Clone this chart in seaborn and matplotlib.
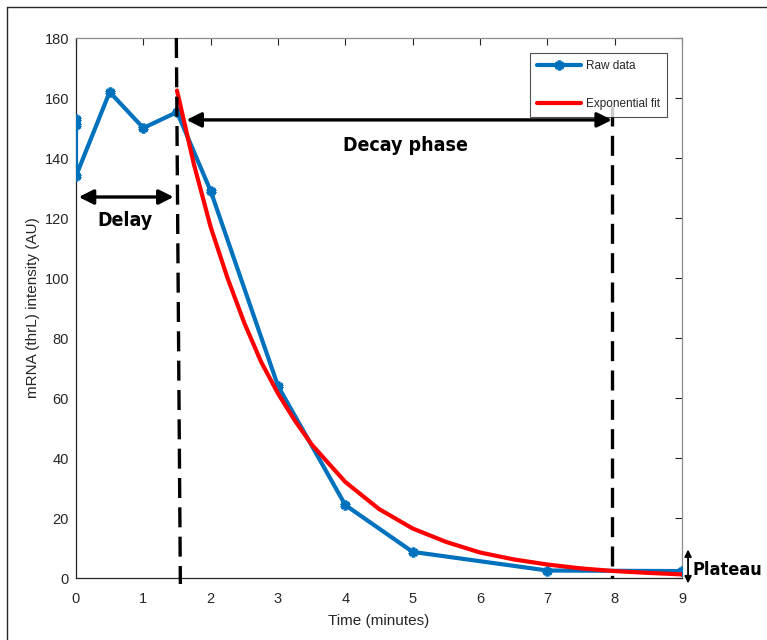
import matplotlib
matplotlib.use("Agg")
import matplotlib.pyplot as plt
import seaborn as sns
import pandas as pd
from matplotlib.lines import Line2D

# ---- data ----
raw_time = [0, 0, 0, 0.5, 1, 1.5, 2, 3, 4, 5, 7, 9]
raw_intensity = [151, 153, 134, 162, 150, 155.3, 129, 64, 24.3, 8.7, 2.5, 2.3]

fit_time = [1.5, 1.75, 2.0, 2.25, 2.5, 2.75, 3.0, 3.25, 3.5, 4.0, 4.5, 5.0,
            5.5, 6.0, 6.5, 7.0, 7.5, 8.0, 8.5, 9.0]
fit_intensity = [162.5, 138, 117, 100, 85, 72, 61.5, 52.5, 44.5, 32, 23, 16.5,
                 12, 8.5, 6.2, 4.5, 3.2, 2.3, 1.7, 1.2]

x_ticks = list(range(0, 10))
y_ticks = list(range(0, 181, 20))

delay_start, delay_end = 1.5, 7.96

sns.set_theme(style="white")
plt.rcParams['font.family'] = ['Liberation Sans', 'DejaVu Sans']

fig = plt.figure(figsize=(7.67, 6.4), dpi=100)
ax = fig.add_axes([76/767, 62/640, 606/767, 540/640])

blue = "#0072BD"
red = "#FF0000"

raw_df = pd.DataFrame({"t": raw_time, "y": raw_intensity})
fit_df = pd.DataFrame({"t": fit_time, "y": fit_intensity})

mk = dict(marker=(6, 2, 0), markersize=7, markeredgewidth=2.6,
          markeredgecolor=blue, markerfacecolor=blue)

sns.lineplot(data=raw_df, x="t", y="y", estimator=None, sort=False, ax=ax,
             color=blue, lw=3, zorder=3, **mk)
sns.lineplot(data=fit_df, x="t", y="y", estimator=None, sort=False, ax=ax,
             color=red, lw=3, zorder=4)

ax.set_xlim(0, 9)
ax.set_ylim(0, 180)
ax.set_xticks(x_ticks)
ax.set_yticks(y_ticks)
ax.set_xlabel("Time (minutes)", fontsize=11, color="#262626", labelpad=6)
ax.set_ylabel("mRNA (thrL) intensity (AU)", fontsize=11, color="#262626", labelpad=3)
ax.tick_params(axis="both", direction="in", length=5, width=0.8, labelsize=10.5,
               colors="#262626", top=True, right=True, pad=5)
ax.tick_params(axis="x", pad=10)
for side in ["left", "bottom"]:
    ax.spines[side].set_color("#262626")
    ax.spines[side].set_linewidth(0.9)
for side in ["top", "right"]:
    ax.spines[side].set_color("#8c8c8c")
    ax.spines[side].set_linewidth(0.9)

# dashed vertical lines
ax.plot([1.49, 1.55], [180, -2], color="black", lw=2.4, ls=(0, (6, 2.8)),
        clip_on=False, zorder=5)
ax.plot([delay_end, delay_end], [157.5, 0], color="black", lw=2.4,
        ls=(0, (6, 2.8)), clip_on=False, zorder=5)

# arrows
arrow_kw = dict(arrowstyle="<|-|>", color="black", lw=2.4, mutation_scale=22,
                shrinkA=0, shrinkB=0)
ax.annotate("", xy=(0.04, 127), xytext=(1.45, 127), arrowprops=arrow_kw, zorder=6)
ax.annotate("", xy=(1.64, 152.7), xytext=(7.96, 152.7), arrowprops=arrow_kw, zorder=6)
ax.annotate("", xy=(9.09, 9.5), xytext=(9.09, -1.8),
            arrowprops=dict(arrowstyle="<|-|>", color="black", lw=1.3,
                            mutation_scale=10, shrinkA=0, shrinkB=0),
            annotation_clip=False, zorder=6)

txt_kw = dict(fontweight="bold", family=["DejaVu Sans"],
              fontstretch="condensed", color="black")
ax.text(0.73, 119, "Delay", ha="center", va="center", fontsize=14, **txt_kw)
ax.text(4.89, 144.3, "Decay phase", ha="center", va="center", fontsize=14, **txt_kw)
ax.text(9.16, 2.7, "Plateau", ha="left", va="center", clip_on=False,
        fontsize=13, **txt_kw)

# legend
handles = [Line2D([], [], color=blue, lw=3, **mk),
           Line2D([], [], color=red, lw=3)]
leg = ax.legend(handles, ["Raw data", "Exponential fit"], loc="upper right",
                bbox_to_anchor=(0.975, 0.972), fontsize=8.5, frameon=True,
                fancybox=False, edgecolor="#262626", labelspacing=2.2,
                handlelength=3.7, handletextpad=0.4, borderpad=0.6,
                borderaxespad=0)
leg.get_frame().set_linewidth(0.8)

# outer frame
fig.add_artist(Line2D([7/767, 7/767], [0, 1 - 7/640], color="#262626", lw=1.0,
                      transform=fig.transFigure))
fig.add_artist(Line2D([7/767, 1], [1 - 7/640, 1 - 7/640], color="#262626", lw=1.0,
                      transform=fig.transFigure))

fig.savefig("out.png", dpi=100)
